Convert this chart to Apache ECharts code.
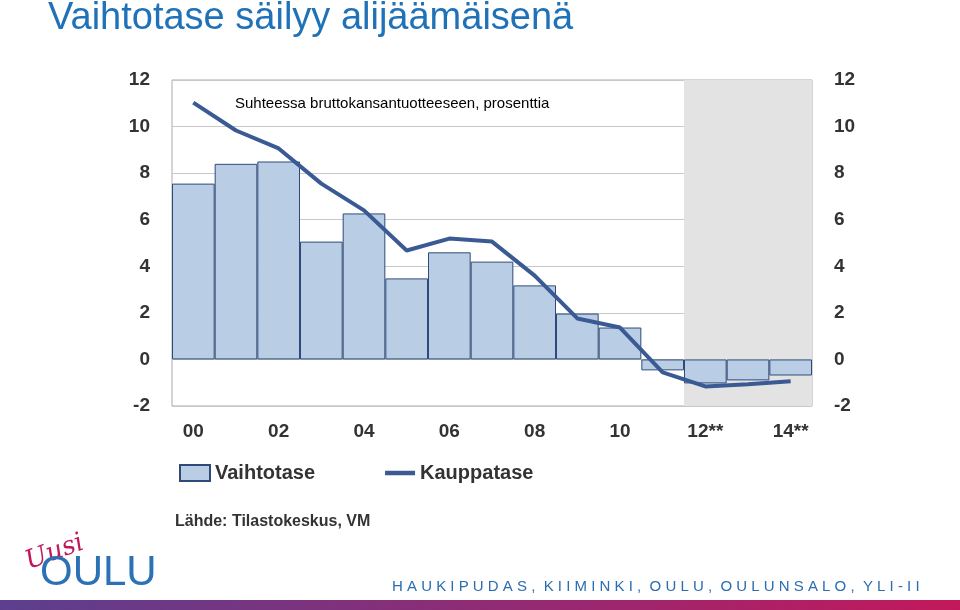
<!DOCTYPE html><html><head><meta charset="utf-8"><script src="https://cdn.jsdelivr.net/npm/echarts@6/dist/echarts.min.js"></script>
<style>body{margin:0}#c{width:960px;height:610px}</style></head><body><div id="c"></div><script>
const categories=['00','01','02','03','04','05','06','07','08','09','10','11','12','13','14'];
const tickLabels={'00':'00','02':'02','04':'04','06':'06','08':'08','10':'10','12':'12**','14':'14**'};
const vaihtotase=[7.55,8.4,8.5,5.06,6.27,3.48,4.6,4.2,3.18,1.97,1.37,-0.47,-1.03,-0.9,-0.69];
const kauppatase=[11.03,9.83,9.06,7.55,6.4,4.68,5.19,5.06,3.6,1.76,1.37,-0.56,-1.16,-1.07,-0.94];
const ch=echarts.init(document.getElementById('c'));
const axLab={fontFamily:'Liberation Sans',fontSize:19,fontWeight:'bold',color:'#333'};
ch.setOption({animation:false,
grid:{left:172,right:148,top:80,bottom:204},
xAxis:{type:'category',data:categories,axisTick:{show:false},axisLine:{show:false},
 axisLabel:{interval:0,formatter:v=>tickLabels[v]||'',margin:16,...axLab}},
yAxis:[{min:-2,max:12,interval:2,position:'left',axisLabel:{margin:22,...axLab},splitLine:{lineStyle:{color:'#c8c8c8'}},axisLine:{show:false}},
 {min:-2,max:12,interval:2,position:'right',axisLabel:{margin:22,...axLab},splitLine:{show:false},axisLine:{show:false}}],
legend:{left:174,top:458,itemWidth:30,itemHeight:16,itemGap:70,textStyle:{fontFamily:'Liberation Sans',fontSize:20,fontWeight:'bold',color:'#333'},
 data:[{name:'Vaihtotase',icon:'rect'},{name:'Kauppatase',icon:'path://M0,0H40V6H0Z',itemStyle:{color:'#3a5a94'}}]},
series:[{name:'Vaihtotase',type:'bar',data:vaihtotase,barCategoryGap:'0%',itemStyle:{color:'#b9cde5',borderColor:'#2f4a78',borderWidth:1},
 markArea:{silent:true,itemStyle:{color:'#e3e3e3'},data:[[{xAxis:'12'},{xAxis:'14'}]]}},
 {name:'Kauppatase',type:'line',data:kauppatase,symbol:'none',lineStyle:{color:'#3a5a94',width:4},itemStyle:{color:'#3a5a94'},z:5}],
graphic:[
 {type:'rect',shape:{x:172,y:80,width:640,height:326},style:{fill:'none',stroke:'#aaa',lineWidth:1},z:-1},
 {type:'text',left:48,top:0,style:{text:'Vaihtotase säilyy alijäämäisenä',font:'38px "Liberation Sans"',fill:'#1f72b8'}},
 {type:'text',left:235,top:96,style:{text:'Suhteessa bruttokansantuotteeseen, prosenttia',font:'15px "Liberation Sans"',fill:'#000'}},
 {type:'text',left:175,top:514,style:{text:'Lähde: Tilastokeskus, VM',font:'bold 16px "Liberation Sans"',fill:'#333'}},
 {type:'text',left:22,top:530,rotation:0.35,style:{text:'Uusi',font:'italic 26px "DejaVu Serif"',fill:'#c2185b'}},
 {type:'text',left:40,top:552,style:{text:'OULU',font:'42px "Liberation Sans"',fill:'#2a72b5'}},
 {type:'text',left:392,top:579,style:{text:'H A U K I P U D A S ,  K I I M I N K I ,  O U L U ,  O U L U N S A L O ,  Y L I - I I',font:'15px "Liberation Sans"',fill:'#2a6db0'}},
 {type:'rect',shape:{x:0,y:600,width:960,height:10},style:{fill:new echarts.graphic.LinearGradient(0,0,1,0,[{offset:0,color:'#5b3f8e'},{offset:1,color:'#c2185b'}])}}
]});
</script></body></html>
